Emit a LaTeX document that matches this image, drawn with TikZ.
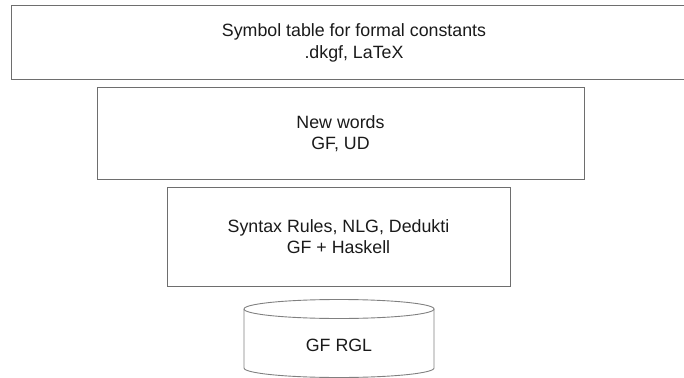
\documentclass[tikz,border=0pt]{standalone}
\usepackage{fontspec}
\setmainfont{Liberation Sans}
\definecolor{boxline}{HTML}{6E6E6E}
\definecolor{cylline}{HTML}{808080}
\definecolor{txt}{HTML}{1A1A1A}
\begin{document}
\begin{tikzpicture}[x=1pt,y=-1pt,
  layer/.style={draw=boxline,line width=1pt,align=center,text=txt,
    font=\fontsize{17.8}{21.6}\selectfont,inner sep=0pt},
  lbl/.style={text=txt,font=\fontsize{17.8}{21.6}\selectfont,inner sep=0pt}]
\useasboundingbox (0,0) rectangle (684,377);
\clip (0,0) rectangle (684,377);
\node[layer,minimum width=686pt,minimum height=74pt] (sym) at (354,43)
  {Symbol table for formal constants\\.dkgf, LaTeX};
\node[layer,minimum width=487pt,minimum height=91pt] (words) at (340.5,133.5)
  {New words\\GF, UD};
\node[layer,minimum width=343pt,minimum height=99pt] (syntax) at (338.5,236.5)
  {Syntax Rules, NLG, Dedukti\\GF + Haskell};
% cylinder (GF RGL)
\draw[cylline,line width=0.9pt] (339,309) ellipse [x radius=95,y radius=9.5];
\draw[cylline,line width=0.9pt] (244,309) -- (244,368)
  arc[start angle=180,end angle=0,x radius=95,y radius=9.5] -- (434,309);
\node[lbl] (rgl) at (339,345) {GF RGL};
\end{tikzpicture}
\end{document}
